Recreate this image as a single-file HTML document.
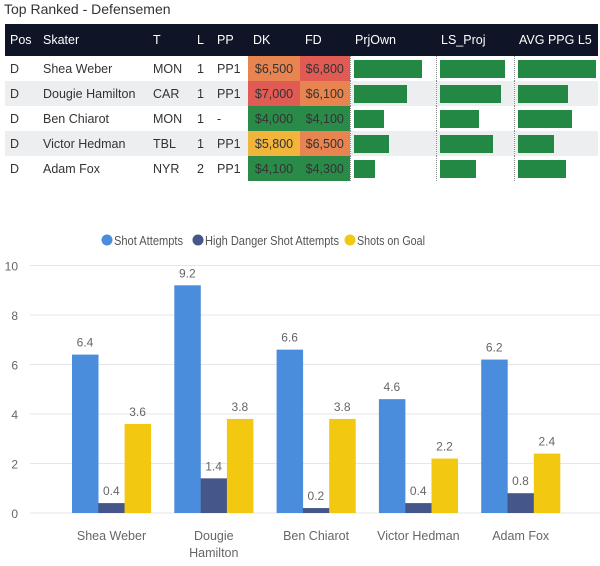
<!DOCTYPE html>
<html><head><meta charset="utf-8">
<style>
body{margin:0;width:600px;height:566px;background:#fff;font-family:"Liberation Sans",sans-serif;overflow:hidden;position:relative}
.title{position:absolute;left:4px;top:1px;font-size:14px;color:#333}
table{position:absolute;left:5px;top:24px;border-collapse:collapse;font-size:12.5px;color:#333;table-layout:fixed;width:593px}
th{background:#0f1426;color:#fff;font-weight:normal;text-align:left;height:32px;padding:0 0 0 5px;overflow:hidden;white-space:nowrap}
td{height:25px;padding:0 0 0 5px;white-space:nowrap;overflow:hidden}
tr.alt td{background:#eceef0}
td.c{color:#333;padding:0 2px;text-align:center}
.bar{height:18px;background:#228844}
.bc{padding:0 2px 0 3px;border-left:1px dotted #888}
</style></head><body>
<div class="title">Top Ranked - Defensemen</div>
<table>
<colgroup><col style="width:33px"><col style="width:110px"><col style="width:44px"><col style="width:20px"><col style="width:36px"><col style="width:52px"><col style="width:50px"><col style="width:86px"><col style="width:78px"><col style="width:84px"></colgroup>
<thead><tr>
<th>Pos</th><th>Skater</th><th>T</th><th>L</th><th>PP</th><th>DK</th><th>FD</th><th>PrjOwn</th><th>LS_Proj</th><th>AVG PPG L5</th></tr></thead>
<tbody id="tb"></tbody></table>
<svg id="chart" width="600" height="566" style="position:absolute;left:0;top:0"></svg>
<script>
const skaters=["Shea Weber","Dougie Hamilton","Ben Chiarot","Victor Hedman","Adam Fox"];
const teams=["MON","CAR","MON","TBL","NYR"];
const lines=["1","1","1","1","2"];
const pps=["PP1","PP1","-","PP1","PP1"];
const dk=["$6,500","$7,000","$4,000","$5,800","$4,100"];
const fd=["$6,800","$6,100","$4,100","$6,500","$4,300"];
const dkColor=["#e8844f","#e05b53","#2a8a47","#f0b53a","#2a8a47"];
const fdColor=["#e05b53","#e8844f","#2a8a47","#e8844f","#2a8a47"];
const prjOwn=[68,53,30,35,21];
const lsProj=[64,60,38,52,36];
const avgPpg=[78,50,54,36,48];
const tb=document.getElementById('tb');
skaters.forEach((s,i)=>{
 const tr=document.createElement('tr');
 
 
 if(i%2)tr.className='alt';
 const bw=(v,m)=>`<div class="bar" style="width:${v/m*78}px"></div>`;
 tr.innerHTML=`<td>D</td><td>${s}</td><td>${teams[i]}</td><td>${lines[i]}</td><td>${pps[i]}</td><td class="c" style="background:${dkColor[i]}">${dk[i]}</td><td class="c" style="background:${fdColor[i]}">${fd[i]}</td><td class="bc">${bw(prjOwn[i],78)}</td><td class="bc">${bw(lsProj[i],76)}</td><td class="bc">${bw(avgPpg[i],78)}</td>`;
 tb.appendChild(tr);
});
const categories=["Shea Weber","Dougie Hamilton","Ben Chiarot","Victor Hedman","Adam Fox"];
const shotAttempts=[6.4,9.2,6.6,4.6,6.2];
const highDanger=[0.4,1.4,0.2,0.4,0.8];
const shotsOnGoal=[3.6,3.8,3.8,2.2,2.4];
const yTicks=[0,2,4,6,8,10];
const seriesNames=["Shot Attempts","High Danger Shot Attempts","Shots on Goal"];
const colors=["#4a8ddc","#44568a","#f2c811"];
const svg=document.getElementById('chart');
const NS='http://www.w3.org/2000/svg';
function el(t,a,txt){const e=document.createElementNS(NS,t);for(const k in a)e.setAttribute(k,a[k]);if(txt!==undefined)e.textContent=txt;svg.appendChild(e);return e;}
const y=v=>513-v*24.75;
const x0=i=>72+i*102.3;
yTicks.forEach(t=>{
 const g=el('line',{x1:30,x2:600,y1:y(t),y2:y(t),stroke:'#e6e6e6','stroke-width':1});
 
 
 const l=el('text',{x:18,y:y(t)+5,'text-anchor':'end','font-size':12,fill:'#666'},t);
 
 
});
const series=[shotAttempts,highDanger,shotsOnGoal];
series.forEach((arr,si)=>{
 arr.forEach((v,i)=>{
  const bx=x0(i)+si*26.3;
  const r=el('rect',{x:bx,y:y(v),width:26.5,height:v*24.75,fill:colors[si]});
  
  
  const t=el('text',{x:bx+13,y:y(v)-8,'text-anchor':'middle','font-size':12,fill:'#666'},v.toFixed(1));
  
  
 });
});
categories.forEach((c,i)=>{
 const cx=x0(i)+39.5;
 const parts=c==="Dougie Hamilton"?["Dougie","Hamilton"]:[c];
 parts.forEach((p,j)=>{
  const t=el('text',{x:cx,y:540+j*17,'text-anchor':'middle','font-size':12.5,fill:'#666'},p);
  
  
 });
});
const lx=[102,193,345];
const lw=[69,134,68];
seriesNames.forEach((n,i)=>{
 const c=el('circle',{cx:lx[i]+5,cy:240,r:5.5,fill:colors[i]});
 
 
 const t=el('text',{x:lx[i]+12,y:245,'font-size':12.5,fill:'#555',textLength:lw[i],lengthAdjust:'spacingAndGlyphs'},n);
 
 
});
</script>
</body></html>
